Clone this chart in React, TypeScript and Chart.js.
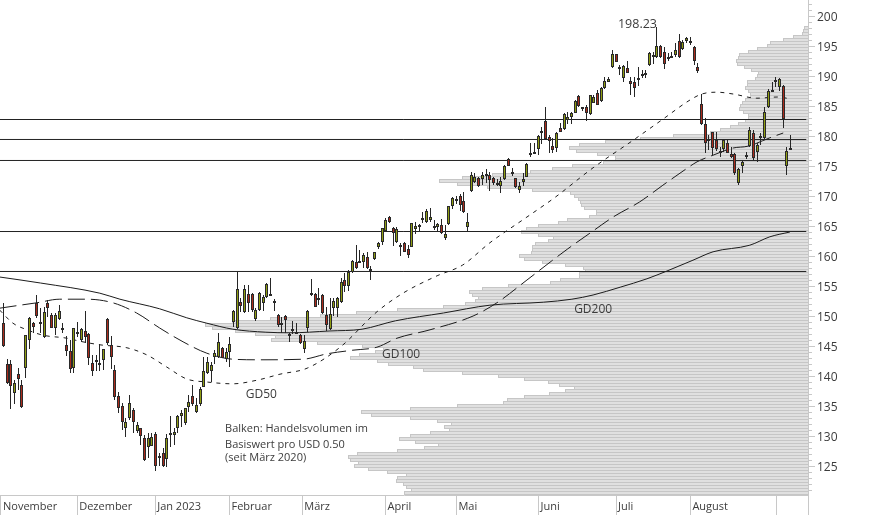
import { useEffect, useRef } from 'react';
import Chart from 'chart.js/auto';

const opens = [
    148.89, 142, 142, 137.11, 140.28, 138.44, 141.28, 146, 148.78, 152.11,
    148.72, 146.44, 152.11, 150.17, 148.06, 149.44, 147.83, 145.11, 144.11, 141.39,
    147.28, 146, 147.56, 146.94, 142.11, 142.39, 142, 142.67, 149.5, 145.17,
    141, 136.66, 135, 131.39, 133.05, 134.33, 130.83, 131.28, 129.61, 128.11,
    128.39, 130.28, 126.44, 127.11, 126.11, 130.16, 130.16, 131.28, 133.39, 132.11,
    134.89, 136.72, 134.05, 135.28, 138.22, 140.44, 140.89, 143.22, 143.22, 144.72,
    142.83, 144.05, 148.94, 147.94, 152.39, 150.61, 153.67, 153.67, 149.5, 150.94,
    152.11, 153.11, 153.44, 152.33, 150.17, 148.72, 150, 146.67, 147.56, 147.22,
    146.83, 144.44, 148.05, 153.67, 153.67, 152.67, 153.5, 150.17, 147.83, 151.28,
    151.28, 152.28, 156, 155.06, 157.28, 159.06, 159.06, 158.94, 159.78, 157.5,
    159.44, 161.56, 162.39, 164.22, 166.44, 164.61, 162.39, 161.44, 162.22, 161.11,
    161.56, 164.56, 165.06, 166.17, 165.72, 166, 164.89, 164.89, 165.11, 163.06,
    165.28, 168.39, 169.28, 170, 169.22, 164.89, 170.83, 172.39, 172.94, 172.89,
    173.5, 173.5, 172.94, 171.94, 171.72, 172.83, 176.22, 173.78, 172.95, 171,
    172.39, 173.22, 176.83, 177.17, 177.78, 180.61, 182.5, 179.78, 178.33, 177.94,
    181.28, 181.17, 182.67, 183.22, 183.89, 186.67, 184.44, 184.78, 183.67, 185.56,
    187.11, 185.83, 187.95, 189.06, 191.56, 193.61, 191.28, 189.72, 191.28, 189.17,
    189, 189.56, 190.11, 190.28, 191.83, 193.28, 193.11, 195, 193.95, 193.22,
    193.22, 193.5, 195.78, 194.56, 195.89, 195.89, 194.78, 191.45, 185.28, 181.95,
    179.33, 180.61, 179.34, 177.22, 177.84, 178.78, 177, 177, 172.22, 175.06,
    176.72, 178.39, 180.45, 177.34, 179.89, 179.61, 184.89, 187.45, 189.22, 188.22,
    188.34, 175.06, 177.84
];

const closes = [
    145.06, 138.89, 138.39, 138.78, 139.56, 134.89, 146.83, 149.61, 148.22, 150.06,
    149.06, 150.61, 151.28, 148.06, 150.17, 150.89, 148.06, 144.22, 141.22, 147.94,
    147.39, 147.78, 146.56, 142.94, 140.89, 142.61, 142.11, 144.44, 145.44, 143.22,
    136.56, 134.61, 132.39, 132.28, 135.44, 132.28, 131.83, 130.05, 126, 129.61,
    129.78, 125.05, 126.72, 125, 129.61, 130.44, 130.61, 133.39, 133.78, 134.61,
    135.72, 135.28, 135.16, 137.78, 140.89, 142.39, 141.83, 143.78, 145.72, 143.05,
    144.05, 145.28, 150.83, 154.44, 151.72, 154.44, 152.11, 150.94, 150.94, 153.78,
    153.11, 155.33, 153.61, 152.5, 148.5, 148.89, 149.33, 147, 147.78, 147.39,
    145.44, 145.83, 150.89, 153.83, 151.56, 152.94, 150.5, 148.5, 150.28, 152.44,
    152.94, 155.72, 155.06, 157.39, 159.22, 157.94, 159.22, 160.17, 158.06, 157.78,
    160.67, 162.22, 164.61, 166, 165.61, 163.78, 164.5, 161.89, 160.72, 160.11,
    165.44, 165.06, 165.22, 166.33, 167.44, 166.44, 165.06, 165.28, 163.78, 163.61,
    168.28, 169.61, 169.44, 168.56, 167.28, 165.61, 173.5, 173.22, 171.67, 173.44,
    173.72, 172.67, 172.11, 172.11, 172.5, 175.06, 175.06, 174.06, 171.56, 171.67,
    172.78, 175.33, 177.11, 177.33, 180, 180.78, 179.5, 179.22, 177.67, 180.44,
    180.72, 183.67, 183.11, 183.78, 185.83, 185, 184.78, 183.89, 186.78, 186.44,
    185.22, 187.95, 189.17, 189.5, 193.61, 192.39, 191.45, 191.67, 190.56, 188.61,
    188.06, 189.72, 190.28, 190.45, 193.89, 193.45, 195, 193.11, 191.95, 192.78,
    193.39, 194.33, 193.11, 195.61, 196.28, 195.45, 192.56, 190.83, 181.95, 178.78,
    179.5, 178.06, 177.84, 177.56, 179.34, 177.22, 176.56, 173.89, 174.45, 175.72,
    176.89, 181, 176.28, 178.5, 180.06, 183.95, 187.5, 187.61, 189.39, 189.5,
    182.84, 177.5, 178
];

const highs = [
    152.11, 142.78, 142.67, 139.33, 141.28, 139.33, 146.83, 149.78, 149.06, 153.5,
    151.28, 151.44, 152.67, 150.44, 150.44, 151.83, 148.89, 146.67, 146, 147.94,
    149.06, 147.94, 150.83, 147.11, 143.5, 143.5, 145.28, 144.5, 149.72, 146.72,
    141.83, 137.39, 135.44, 132.94, 136.83, 134.61, 132.39, 131.28, 130.16, 130.44,
    130.44, 130.72, 127.11, 127.94, 130.28, 133.33, 131.39, 133.5, 134.33, 134.61,
    136.83, 138.5, 136.28, 138.22, 143.22, 143.22, 142.39, 144.33, 147.11, 144.89,
    144.61, 146.44, 151, 157.39, 152.94, 155.17, 155.17, 153.78, 151.28, 154.06,
    153.5, 155.44, 156.28, 152.83, 150.33, 149.89, 150.17, 147.22, 149.17, 148.89,
    147, 146.83, 151, 156.17, 153.78, 154.61, 153.61, 151.56, 152.94, 152.94,
    153.22, 156.28, 157.11, 157.67, 159.33, 161.83, 161, 160.44, 160.72, 158.33,
    160.72, 162.39, 164.72, 166.28, 166.67, 164.89, 164.78, 162.11, 162.33, 161.83,
    165.56, 165.72, 165.33, 167.39, 167.78, 167.94, 166, 165.44, 166.11, 165.17,
    168.39, 169.89, 170.06, 170.28, 170.72, 167.11, 174.06, 173.78, 173.11, 174.06,
    174.44, 174.06, 173.22, 172.78, 173.22, 175.17, 176.28, 174.61, 173.06, 172.39,
    173.78, 175.56, 178.78, 178.89, 180.17, 181.56, 184.78, 180.17, 179.61, 180.61,
    182.11, 183.78, 184.06, 184.06, 186, 186.83, 184.89, 185.17, 186.83, 186.83,
    187.67, 188.22, 189.78, 189.89, 194.33, 193.67, 191.83, 191.83, 192.5, 189.89,
    189.89, 191.56, 191, 191, 194.06, 194.06, 198.23, 195.11, 194.89, 193.78,
    194.06, 195.45, 197, 196, 196.45, 196.45, 195, 192.11, 187, 182.95,
    180.17, 180.72, 180.72, 178.22, 179.45, 179.34, 178.22, 177.22, 174.61, 176,
    177.39, 181.56, 181, 178.78, 180.45, 184.89, 187.78, 188.95, 189.78, 189.61,
    188.5, 178.22, 180.17
];

const lows = [
    144.89, 138.67, 134.44, 135.33, 137.67, 134.61, 139.61, 144.44, 147.11, 149.61,
    147.11, 146.28, 149.89, 147.94, 146.83, 149.33, 147.11, 143.33, 140.44, 140.56,
    146.44, 145.72, 145.44, 141.83, 140, 140.89, 140.89, 141, 145.17, 141.11,
    136, 133.78, 131, 129.89, 132.66, 130.44, 130.44, 128.5, 125.83, 126.28,
    128.33, 124.22, 125.05, 124.89, 124.89, 128.22, 128.5, 130.44, 131.55, 131.83,
    134.05, 135.05, 133.78, 135.05, 138.11, 140.33, 139.05, 141.94, 143.05, 142.94,
    142.39, 141.44, 148.22, 147.83, 150.72, 150.56, 150.72, 150.72, 149.17, 150.83,
    150.83, 152.94, 153.39, 150.89, 148.22, 147.11, 147.11, 145.72, 147, 147,
    145.33, 143.89, 147.39, 153.39, 151.44, 151.83, 150.28, 147.56, 147.67, 150,
    149.89, 152.11, 154.06, 154.17, 157.22, 157.78, 158.78, 158.06, 157.83, 156,
    159.33, 161.11, 161.83, 164.05, 165.44, 161.72, 162.11, 160, 160.61, 159.72,
    161.44, 163.67, 164.05, 165.56, 165.56, 165.72, 164.33, 164.17, 163.67, 162.67,
    165.17, 167.83, 168.67, 167.5, 167.11, 164.17, 170.72, 172.11, 171.56, 171.83,
    172.11, 170.89, 171.83, 171.67, 170.44, 172.67, 175, 173.39, 171.28, 170.56,
    171.67, 173.11, 176.56, 177, 176.83, 178.67, 179.33, 177.22, 177.22, 177.39,
    180.61, 181, 182, 181.95, 183.78, 184.89, 184.22, 182.56, 183.5, 185.44,
    185.17, 185.72, 187.78, 188.95, 191.28, 192.28, 190.17, 189.06, 190.45, 186.83,
    186.56, 188.39, 189.61, 189.61, 191.72, 192, 192.95, 192.95, 191.17, 192.56,
    192.95, 193.22, 192.95, 194.33, 195.45, 195.17, 191.83, 190.56, 181.84, 177.22,
    177.67, 176.84, 177.56, 176.56, 177.39, 177.11, 176.28, 173.5, 171.84, 173.78,
    176.11, 178.22, 175.89, 175.72, 178.5, 179.45, 184.72, 187.39, 188.11, 187.56,
    181.39, 173.5, 177.67
];

// Volume profile, one row per 0.50 USD
const priceLevels = [
    198, 197.5, 197, 196.5, 196, 195.5, 195, 194.5, 194, 193.5, 193, 192.5, 192, 191.5, 191, 190.5,
    190, 189.5, 189, 188.5, 188, 187.5, 187, 186.5, 186, 185.5, 185, 184.5, 184, 183.5, 183, 182.5,
    182, 181.5, 181, 180.5, 180, 179.5, 179, 178.5, 178, 177.5, 177, 176.5, 176, 175.5, 175, 174.5,
    174, 173.5, 173, 172.5, 172, 171.5, 171, 170.5, 170, 169.5, 169, 168.5, 168, 167.5, 167, 166.5,
    166, 165.5, 165, 164.5, 164, 163.5, 163, 162.5, 162, 161.5, 161, 160.5, 160, 159.5, 159, 158.5,
    158, 157.5, 157, 156.5, 156, 155.5, 155, 154.5, 154, 153.5, 153, 152.5, 152, 151.5, 151, 150.5,
    150, 149.5, 149, 148.5, 148, 147.5, 147, 146.5, 146, 145.5, 145, 144.5, 144, 143.5, 143, 142.5,
    142, 141.5, 141, 140.5, 140, 139.5, 139, 138.5, 138, 137.5, 137, 136.5, 136, 135.5, 135, 134.5,
    134, 133.5, 133, 132.5, 132, 131.5, 131, 130.5, 130, 129.5, 129, 128.5, 128, 127.5, 127, 126.5,
    126, 125.5, 125, 124.5, 124, 123.5, 123, 122.5, 122, 121.5, 121, 120.5, 120
];

const profileVolumes = [
    4, 5, 6, 15, 25, 38, 41, 51, 60, 69, 70, 72, 71, 64, 57, 50,
    51, 53, 61, 61, 63, 60, 58, 58, 63, 66, 68, 69, 65, 60, 60, 63,
    70, 78, 88, 98, 135, 168, 203, 229, 239, 232, 211, 193, 193, 205, 236, 256,
    278, 316, 346, 369, 351, 321, 276, 238, 234, 230, 228, 227, 224, 212, 212, 219,
    241, 250, 270, 282, 287, 270, 255, 260, 273, 276, 276, 277, 289, 284, 266, 243,
    225, 223, 229, 229, 248, 258, 300, 326, 339, 336, 330, 333, 343, 365, 411, 452,
    488, 538, 576, 603, 596, 573, 553, 533, 537, 491, 446, 425, 433, 449, 458, 431,
    420, 395, 385, 346, 310, 284, 260, 249, 234, 243, 259, 284, 301, 305, 351, 398,
    447, 437, 398, 371, 357, 364, 359, 378, 398, 409, 393, 370, 384, 411, 451, 460,
    458, 450, 454, 440, 421, 402, 411, 412, 405, 402, 397, 404, 381
];

const gd200Days = [-1, 10, 26, 31.4, 42.1, 49.4, 54.8, 61.8, 70.7, 77.2, 87.7, 96.6, 105.6, 118.5, 131, 145.4, 153.1, 158.8, 166.1, 173.3, 178.7, 185.7, 191.1, 201, 206.4, 211.8];
const gd200Values = [156.5, 155.5, 153.8, 152.8, 151.2, 149.7, 148.8, 147.8, 147.3, 147.2, 147.5, 147.8, 149.2, 150.5, 151.8, 152.3, 152.8, 153.5, 154.8, 156.2, 157.5, 159.3, 160.7, 161.8, 163.2, 164];

const gd100Days = [-1, 4.5, 9, 15.2, 22.5, 29.5, 35.9, 42.1, 48.4, 54.8, 61.8, 69.1, 80.7, 87.2, 94.1, 100.6, 106, 114.9, 126.5, 132.9, 141, 147.7, 152, 158.4, 164.2, 171.3, 177.6, 184.3, 186.8, 191.1, 196.5, 200.5, 206.4, 210];
const gd100Values = [151.3, 151.8, 152.2, 152.8, 152.8, 152.2, 150.5, 148, 145.7, 143.8, 142.8, 142.7, 142.8, 143.7, 144.3, 144.8, 146.3, 147.7, 150, 152.2, 156, 159.2, 161.2, 164, 166.5, 169, 171.8, 174.7, 175.7, 176.8, 178, 178.3, 179.7, 180.5];

const gd50Days = [-1, 2.6, 6.4, 10.7, 17.1, 20.6, 26, 33.3, 38.7, 44, 49.4, 54.8, 61.8, 68.3, 74.5, 81.8, 90.7, 100.6, 107.6, 116.8, 123.7, 131, 141, 148.4, 158.8, 169.6, 177.6, 184.9, 188.1, 192.2, 196.5, 202.9, 208.6, 211.8];
const gd50Values = [151, 148.8, 147.7, 146.8, 146.3, 145.8, 145.2, 144.7, 143.5, 141.5, 139.5, 139, 138.7, 139.3, 140.3, 141.3, 144.8, 150.7, 153.8, 156.7, 158.5, 162.2, 166.5, 169.7, 174.7, 179.3, 182.8, 186, 187, 187.3, 187, 186.3, 186.5, 186.2];

const levelLines = [182.75, 179.42, 175.92, 164.08, 157.42];

const monthDays = [-0.62, 19.9, 40.9, 60.9, 80.5, 102.9, 122, 144.1, 165, 185, 208.1, 216.67];
const monthLabels = ['November', 'Dezember', 'Jan 2023', 'Februar', 'März', 'April', 'Mai', 'Juni', 'Juli', 'August', '', ''];
const priceTicks = [
    121, 122, 123, 124, 125, 126, 127, 128, 129, 130, 131, 132, 133, 134, 135, 136, 137, 138, 139, 140,
    141, 142, 143, 144, 145, 146, 147, 148, 149, 150, 151, 152, 153, 154, 155, 156, 157, 158, 159, 160,
    161, 162, 163, 164, 165, 166, 167, 168, 169, 170, 171, 172, 173, 174, 175, 176, 177, 178, 179, 180,
    181, 182, 183, 184, 185, 186, 187, 188, 189, 190, 191, 192, 193, 194, 195, 196, 197, 198, 199, 200,
    201, 202
];

const chartNotes = [
    { text: '198.23', day: 165.5, price: 198.66, size: 12.5 },
    { text: 'GD50', day: 65.3, price: 136.9, size: 12 },
    { text: 'GD100', day: 102, price: 143.5, size: 12 },
    { text: 'GD200', day: 153.7, price: 151, size: 12 },
    { text: 'Balken: Handelsvolumen im', day: 59.7, price: 131.16, size: 11 },
    { text: 'Basiswert pro USD 0.50', day: 59.7, price: 128.6, size: 11 },
    { text: '(seit März 2020)', day: 59.7, price: 126.33, size: 11 }
];

const FONT = '"Open Sans", sans-serif';
const AXIS_COLOR = '#c8c8c8';
const TEXT_COLOR = '#3c3c3c';

// Candles sit on whole pixels in the original, so snap the bar elements
const snapCandles = {
    id: 'snapCandles',
    afterDatasetsUpdate(chart: any) {
        chart.data.datasets.forEach((dataset: any, index: number) => {
            if (!dataset.snap) return;
            chart.getDatasetMeta(index).data.forEach((bar: any) => {
                bar.x = Math.floor(bar.x) + 0.5;
                const top = Math.round(Math.min(bar.y, bar.base));
                let bottom = Math.round(Math.max(bar.y, bar.base));
                if (bottom - top < 2) bottom = top + 2;
                bar.y = top;
                bar.base = bottom;
            });
        });
    }
};

// Every fifth tick is longer, and the free text labels
const chartExtras = {
    id: 'chartExtras',
    afterDraw(chart: any) {
        const { ctx, scales } = chart;
        const right = scales.y.left;
        ctx.save();
        ctx.strokeStyle = AXIS_COLOR;
        ctx.lineWidth = 1;
        priceTicks.filter(value => value % 5 === 0).forEach(value => {
            const y = Math.round(scales.y.getPixelForValue(value) - 0.5) + 0.5;
            ctx.beginPath();
            ctx.moveTo(right + 4, y);
            ctx.lineTo(right + 7, y);
            ctx.stroke();
        });
        ctx.beginPath();
        ctx.moveTo(right + 0.5, scales.y.bottom);
        ctx.lineTo(right + 0.5, chart.height);
        ctx.stroke();
        ctx.fillStyle = TEXT_COLOR;
        ctx.textAlign = 'left';
        ctx.textBaseline = 'middle';
        chartNotes.forEach(note => {
            ctx.font = `${note.size}px ${FONT}`;
            ctx.fillText(note.text, scales.x.getPixelForValue(note.day), scales.y.getPixelForValue(note.price));
        });
        ctx.restore();
    }
};

function linePoints(days: number[], values: number[]) {
    return days.map((day, i) => ({ x: day, y: values[i] }));
}

export default function App() {
    const chartRef = useRef<HTMLCanvasElement>(null);

    useEffect(() => {
        if (!chartRef.current) return;

        const barBase = { grouped: false, inflateAmount: 0, xAxisID: 'x', yAxisID: 'y' };
        const lineBase = { type: 'line', pointRadius: 0, borderColor: '#1c1c1c', borderWidth: 1, fill: false, order: 8, xAxisID: 'x', yAxisID: 'y' };

        const chart = new Chart(chartRef.current, {
            type: 'bar',
            plugins: [snapCandles, chartExtras],
            data: {
                datasets: [
                    {
                        type: 'bar',
                        label: 'Handelsvolumen',
                        indexAxis: 'y',
                        grouped: false,
                        inflateAmount: 0,
                        xAxisID: 'volume',
                        yAxisID: 'y',
                        data: priceLevels.map((level, i) => ({ x: profileVolumes[i], y: level })),
                        barThickness: 4,
                        backgroundColor: '#e0e0e0',
                        borderColor: '#c6c6c6',
                        borderWidth: { top: 1, bottom: 1, left: 1, right: 0 },
                        borderSkipped: false,
                        order: 10
                    },
                    { ...lineBase, label: 'GD200', data: linePoints(gd200Days, gd200Values), cubicInterpolationMode: 'monotone' },
                    { ...lineBase, label: 'GD100', data: linePoints(gd100Days, gd100Values), cubicInterpolationMode: 'monotone', borderDash: [17, 6] },
                    { ...lineBase, label: 'GD50', data: linePoints(gd50Days, gd50Values), cubicInterpolationMode: 'monotone', borderDash: [4, 5] },
                    ...levelLines.map(level => ({
                        ...lineBase,
                        label: 'Linie',
                        data: [{ x: -0.89, y: level }, { x: 216.2, y: level }],
                        borderColor: '#222222',
                        order: 7
                    })),
                    {
                        ...barBase,
                        type: 'bar',
                        label: 'High/Low',
                        snap: true,
                        data: highs.map((high, i) => ({ x: i, y: [lows[i], high] })),
                        barThickness: 1,
                        backgroundColor: '#262626',
                        order: 6
                    },
                    {
                        ...barBase,
                        type: 'bar',
                        label: 'Open/Close',
                        snap: true,
                        data: opens.map((open, i) => ({ x: i, y: [open, closes[i]] })),
                        barThickness: 3,
                        backgroundColor: opens.map((open, i) => (closes[i] >= open ? '#8f9d12' : '#ab2b1c')),
                        borderColor: '#2a2a2a',
                        borderWidth: 1,
                        borderSkipped: false,
                        order: 5
                    }
                ]
            } as any,
            options: {
                responsive: false,
                animation: false,
                events: [],
                layout: { padding: 0 },
                plugins: {
                    legend: { display: false },
                    title: { display: false },
                    tooltip: { enabled: false }
                },
                scales: {
                    x: {
                        type: 'linear',
                        position: 'bottom',
                        offset: false,
                        min: -0.889,
                        max: 216.67,
                        afterFit: (scale: any) => {
                            scale.height = 20;
                            scale.paddingLeft = 0;
                            scale.paddingRight = 0;
                        },
                        afterBuildTicks: (scale: any) => { scale.ticks = monthDays.map(value => ({ value })); },
                        grid: { offset: false, drawOnChartArea: false, tickLength: 20, color: AXIS_COLOR },
                        border: { color: AXIS_COLOR },
                        ticks: {
                            autoSkip: false,
                            maxRotation: 0,
                            align: 'start',
                            padding: -15,
                            labelOffset: 2,
                            color: TEXT_COLOR,
                            font: { family: FONT, size: 11 },
                            callback: (_value: any, index: number) => monthLabels[index]
                        }
                    },
                    volume: {
                        type: 'linear',
                        position: 'bottom',
                        display: false,
                        reverse: true,
                        offset: false,
                        min: 0,
                        max: 808,
                        grid: { offset: false }
                    },
                    y: {
                        type: 'linear',
                        position: 'right',
                        offset: false,
                        min: 120.1667,
                        max: 202.6667,
                        afterFit: (scale: any) => {
                            scale.width = 66;
                            scale.paddingTop = 0;
                            scale.paddingBottom = 0;
                        },
                        afterBuildTicks: (scale: any) => { scale.ticks = priceTicks.map(value => ({ value })); },
                        grid: { offset: false, drawOnChartArea: false, tickLength: 4, color: AXIS_COLOR },
                        border: { color: AXIS_COLOR },
                        ticks: {
                            autoSkip: false,
                            padding: 5,
                            labelOffset: 1.5,
                            color: TEXT_COLOR,
                            font: { family: FONT, size: 12 },
                            callback: (value: any) => (value % 5 === 0 ? String(value) : '')
                        }
                    }
                }
            } as any
        });

        return () => {
            chart.destroy();
        };
    }, []);

    return (
        <div style={{ position: 'absolute', left: 0, top: 0, width: 874, height: 515, background: '#ffffff' }}>
            <canvas ref={chartRef} width={874} height={515} style={{ display: 'block' }} />
        </div>
    );
}
